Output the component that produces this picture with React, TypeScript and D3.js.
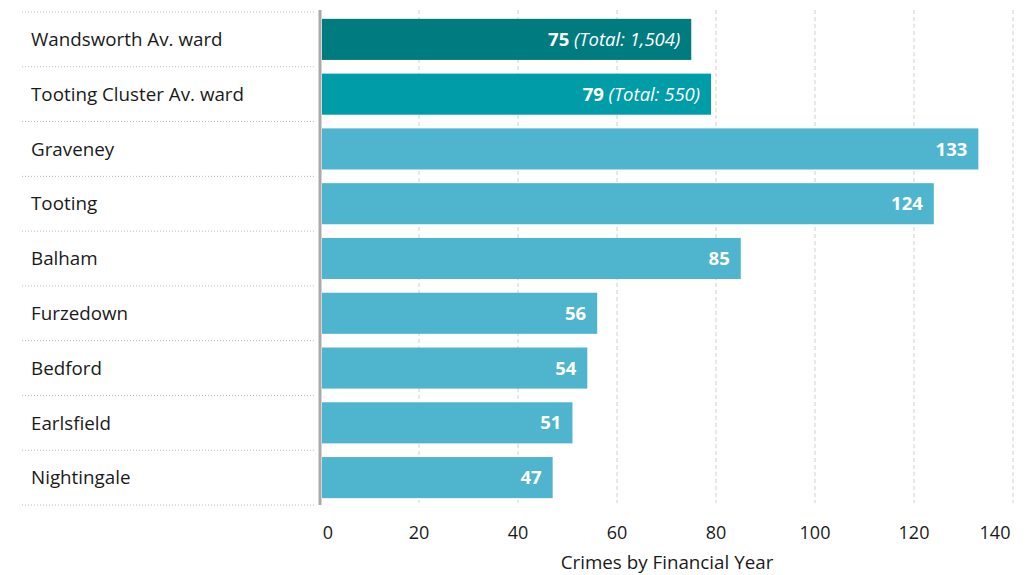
import React from "react";
import * as d3 from "d3";

const categories = ["Wandsworth Av. ward", "Tooting Cluster Av. ward", "Graveney", "Tooting", "Balham", "Furzedown", "Bedford", "Earlsfield", "Nightingale"];
const values = [75, 79, 133, 124, 85, 56, 54, 51, 47];
const totals: (string | null)[] = ["1,504", "550", null, null, null, null, null, null, null];
const barColors = ["#007C80", "#009DA8", "#4FB4CD", "#4FB4CD", "#4FB4CD", "#4FB4CD", "#4FB4CD", "#4FB4CD", "#4FB4CD"];
const xTicks = [0, 20, 40, 60, 80, 100, 120, 140];
const axisTitle = "Crimes by Financial Year";

const W = 1030, H = 575;
const FONT = "'Open Sans', 'Noto Sans', sans-serif";

export default function App() {
  const x = d3.scaleLinear().domain([0, 140]).range([320, 1013]);
  const y = d3.scaleBand<string>().domain(categories).range([12, 505]).paddingInner(0.25).paddingOuter(0.125);
  const step = y.step();
  const top = 12, bottom = 505;
  return (
    <svg width={W} height={H} style={{ position: "absolute", left: 0, top: 0, fontFamily: FONT }}>
      {xTicks.filter(t => t > 0).map(t => (
        <line key={t} x1={x(t)} x2={x(t)} y1={top - 2} y2={bottom - 2} stroke="#d0d0d0" strokeWidth={1} strokeDasharray="4,3" />
      ))}
      {d3.range(categories.length + 1).map(i => (
        <line key={i} x1={22} x2={316} y1={top + i * step} y2={top + i * step} stroke="#b8b8b8" strokeWidth={1} strokeDasharray="1,2" />
      ))}
      {categories.map((c, i) => (
        <rect key={c} x={x(0) + 2} y={y(c)!} width={x(values[i]) - x(0) - 2} height={y.bandwidth()} fill={barColors[i]} />
      ))}
      <line x1={x(0)} x2={x(0)} y1={top - 2} y2={bottom} stroke="#aaaaaa" strokeWidth={3} />
      {categories.map(c => (
        <text key={c} x={31} y={y(c)! + y.bandwidth() / 2} dy="0.36em" fontSize={18.8} fill="#1a1a1a">{c}</text>
      ))}
      {categories.map((c, i) => (
        <text key={c} x={x(values[i]) - 11} y={y(c)! + y.bandwidth() / 2} dy="0.36em" textAnchor="end" fontSize={18.5} fill="#ffffff">
          <tspan fontWeight="bold">{values[i]}</tspan>
          {totals[i] ? <tspan fontStyle="italic">{` (Total: ${totals[i]})`}</tspan> : null}
        </text>
      ))}
      {xTicks.map((t, i) => {
        let tx = x(t);
        if (i === 0) tx = x(t) + 8;
        if (i === xTicks.length - 1) tx = x(t) - 18;
        return (
          <text key={t} x={tx} y={539} textAnchor="middle" fontSize={18} fill="#1a1a1a">{t}</text>
        );
      })}
      <text x={667} y={569} textAnchor="middle" fontSize={18.8} fill="#1a1a1a">{axisTitle}</text>
    </svg>
  );
}
